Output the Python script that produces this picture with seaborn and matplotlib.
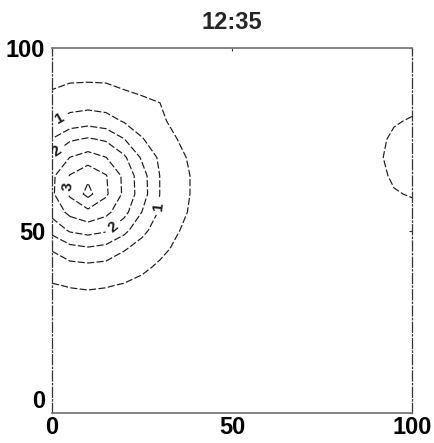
import numpy as np
import matplotlib
matplotlib.use("Agg")
import matplotlib.pyplot as plt
import seaborn as sns

sns.set_theme(style="white")
plt.rcParams['font.family'] = ['Liberation Sans', 'DejaVu Sans']

## data ##
title = "12:35"
grid_x = np.arange(0, 101, 5)
grid_y = np.arange(0, 101, 5)
plain_levels = [0.5, 1.5, 2.5, 3.5]
label_levels = [1, 2, 3]
label_spots = [(27, 57), (2, 81), (2, 71), (4.5, 62), (17, 51)]
tick_values = [0, 50, 100]

# big peak, columns x = 0..45, rows y = 25..100
peak_z = [
    [0.13, 0.15, 0.16, 0.15, 0.13, 0.10, 0.05, 0.03, 0.01, 0.00],
    [0.26, 0.31, 0.33, 0.31, 0.26, 0.19, 0.14, 0.08, 0.04, 0.02],
    [0.47, 0.53, 0.56, 0.53, 0.47, 0.38, 0.26, 0.16, 0.08, 0.04],
    [0.74, 0.84, 0.88, 0.84, 0.74, 0.59, 0.43, 0.27, 0.15, 0.07],
    [1.04, 1.33, 1.43, 1.33, 1.04, 0.83, 0.61, 0.41, 0.22, 0.12],
    [1.65, 2.06, 2.19, 2.06, 1.65, 1.11, 0.79, 0.52, 0.32, 0.16],
    [2.16, 2.63, 2.86, 2.63, 2.16, 1.49, 0.93, 0.63, 0.38, 0.19],
    [2.41, 3.08, 3.65, 3.08, 2.41, 1.73, 0.99, 0.68, 0.41, 0.20],
    [2.39, 3.03, 3.40, 3.03, 2.39, 1.70, 0.99, 0.68, 0.41, 0.20],
    [2.09, 2.51, 2.71, 2.51, 2.09, 1.43, 0.91, 0.61, 0.37, 0.18],
    [1.52, 1.93, 2.06, 1.93, 1.52, 1.03, 0.76, 0.49, 0.30, 0.15],
    [0.96, 1.19, 1.29, 1.19, 0.96, 0.79, 0.57, 0.38, 0.20, 0.11],
    [0.68, 0.78, 0.81, 0.78, 0.68, 0.60, 0.50, 0.24, 0.14, 0.05],
    [0.43, 0.52, 0.53, 0.52, 0.43, 0.34, 0.23, 0.15, 0.07, 0.03],
    [0.22, 0.27, 0.29, 0.27, 0.22, 0.17, 0.12, 0.06, 0.03, 0.01],
    [0.11, 0.13, 0.14, 0.13, 0.11, 0.08, 0.04, 0.03, 0.01, 0.00],
]

# small bump on the right edge, columns x = 85..100, rows y = 55..90
edge_z = [
    [0.00, 0.05, 0.20, 0.30],
    [0.00, 0.15, 0.45, 0.55],
    [0.00, 0.30, 0.60, 0.75],
    [0.05, 0.40, 0.65, 0.80],
    [0.00, 0.35, 0.60, 0.75],
    [0.00, 0.20, 0.45, 0.55],
    [0.00, 0.05, 0.25, 0.35],
    [0.00, 0.00, 0.05, 0.10],
]

# put the patches into the full grid
z = np.zeros((len(grid_y), len(grid_x)))
z[5:21, 0:10] = peak_z
z[11:19, 17:21] = edge_z

fig = plt.figure(figsize=(4.35, 4.43), dpi=100)
ax = fig.add_axes([0.1195, 0.0677, 0.8276, 0.8239])

line_kw = dict(colors="#1a1a1a", linewidths=0.85, linestyles=[(0, (6, 2))])
ax.contour(grid_x, grid_y, z, levels=plain_levels, **line_kw)
cs = ax.contour(grid_x, grid_y, z, levels=label_levels, **line_kw)
labels = ax.clabel(cs, fmt="%d", inline=True, fontsize=11, manual=label_spots)
for t in labels:
    t.set_fontweight("bold")

ax.set_xlim(0, 100)
ax.set_ylim(0, 100)
ax.set_xticks(tick_values)
ax.set_yticks(tick_values)
ax.set_xticklabels(tick_values, fontsize=17, fontweight="bold")
ax.set_yticklabels(tick_values, fontsize=17, fontweight="bold")
ax.get_yticklabels()[0].set_va("bottom")
ax.tick_params(direction="in", length=2, width=0.8,
               top=True, right=True, colors="#333333")
ax.tick_params(axis="x", labelcolor="black", pad=2)
ax.tick_params(axis="y", labelcolor="black", pad=5)

for side in ["top", "bottom"]:
    ax.spines[side].set_color("#7a7a7a")
    ax.spines[side].set_linewidth(1.3)
for side in ["left", "right"]:
    ax.spines[side].set_color("#333333")
    ax.spines[side].set_linewidth(0.9)
    ax.spines[side].set_linestyle((0, (8, 2, 1, 2)))

ax.set_title(title, fontsize=17, fontweight="bold", pad=14)

plt.savefig("out.png", dpi=100)
